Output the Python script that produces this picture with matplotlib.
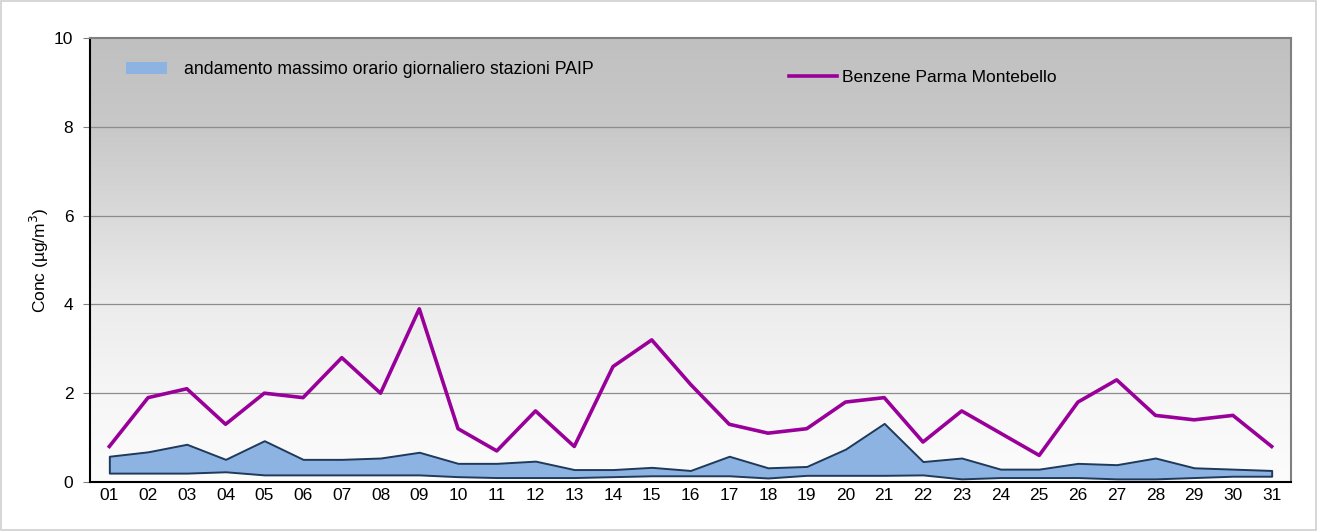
import numpy as np
import matplotlib
matplotlib.use('Agg')
import matplotlib.pyplot as plt
from matplotlib.colors import LinearSegmentedColormap
from matplotlib.patches import Patch
from matplotlib.lines import Line2D

plt.rcParams['font.family'] = ['Liberation Sans', 'DejaVu Sans']

# data
giorni = ['01', '02', '03', '04', '05', '06', '07', '08', '09', '10',
          '11', '12', '13', '14', '15', '16', '17', '18', '19', '20',
          '21', '22', '23', '24', '25', '26', '27', '28', '29', '30', '31']
paip_max = [0.58, 0.68, 0.85, 0.51, 0.93, 0.51, 0.51, 0.54, 0.67, 0.42,
            0.42, 0.47, 0.28, 0.28, 0.33, 0.26, 0.58, 0.32, 0.35, 0.74,
            1.32, 0.46, 0.54, 0.29, 0.29, 0.42, 0.39, 0.54, 0.32, 0.29, 0.26]
paip_min = [0.20, 0.20, 0.20, 0.23, 0.16, 0.16, 0.16, 0.16, 0.16, 0.12,
            0.10, 0.10, 0.10, 0.12, 0.14, 0.14, 0.14, 0.09, 0.15, 0.15,
            0.15, 0.16, 0.07, 0.10, 0.10, 0.10, 0.07, 0.07, 0.10, 0.13, 0.13]
benzene = [0.8, 1.9, 2.1, 1.3, 2.0, 1.9, 2.8, 2.0, 3.9, 1.2,
           0.7, 1.6, 0.8, 2.6, 3.2, 2.2, 1.3, 1.1, 1.2, 1.8,
           1.9, 0.9, 1.6, 1.1, 0.6, 1.8, 2.3, 1.5, 1.4, 1.5, 0.8]

x = np.arange(1, len(giorni) + 1)

fig = plt.figure(figsize=(13.19, 5.31), dpi=100)
fig.patches.append(plt.Rectangle((0.001, 0.001), 0.997, 0.997, transform=fig.transFigure,
                                 fill=False, edgecolor='#d0d0d0', linewidth=1.2))
ax = fig.add_axes([0.0682, 0.0923, 0.9106, 0.8361])

# gradient background
grad_cmap = LinearSegmentedColormap.from_list('bg', [(0.0, '#fcfcfc'), (0.2, '#f6f6f6'),
                                                     (0.4, '#ececec'), (0.6, '#dadada'),
                                                     (0.8, '#c8c8c8'), (1.0, '#c0c0c0')])
ax.imshow(np.linspace(0, 1, 256).reshape(-1, 1), cmap=grad_cmap, aspect='auto',
          extent=(0.5, 31.5, 0, 10), origin='lower', zorder=0)

for yy in [2, 4, 6, 8]:
    ax.axhline(yy, color='#8c8c8c', linewidth=0.9, zorder=1)

ax.fill_between(x, paip_min, paip_max, facecolor='#8db3e2', edgecolor='#1f3a5a',
                linewidth=1.4, zorder=2)
ax.plot(x, benzene, color='#990099', linewidth=2.6, zorder=3)

ax.set_xlim(0.5, 31.5)
ax.set_ylim(0, 10)
ax.set_xticks(x)
ax.set_xticklabels(giorni)
ax.set_yticks([0, 2, 4, 6, 8, 10])
ax.tick_params(axis='x', length=0, labelsize=12.5, pad=4)
ax.tick_params(axis='y', length=5, color='#808080', labelsize=12.5, pad=7)
ax.set_ylabel('Conc (µg/m$^3$)', fontsize=12.5, labelpad=2)

ax.spines['left'].set_color('black')
ax.spines['bottom'].set_color('black')
ax.spines['top'].set_color('#808080')
ax.spines['right'].set_color('#808080')
for s in ax.spines.values():
    s.set_linewidth(1.5)

leg1 = ax.legend(handles=[Patch(facecolor='#8db3e2', edgecolor='none',
                                label='andamento massimo orario giornaliero stazioni PAIP')],
                 loc='center left', bbox_to_anchor=(0.030, 0.928), frameon=False, fontsize=12.7,
                 borderaxespad=0, borderpad=0,
                 handlelength=2.3, handleheight=0.7, handletextpad=1.0)
ax.add_artist(leg1)
ax.legend(handles=[Line2D([0], [0], color='#990099', linewidth=2.6,
                          label='Benzene Parma Montebello')],
          loc='center left', bbox_to_anchor=(0.582, 0.912), frameon=False, fontsize=12.5,
          borderaxespad=0, borderpad=0,
          handlelength=2.75, handletextpad=0.3)

plt.savefig('out.png', dpi=100)
